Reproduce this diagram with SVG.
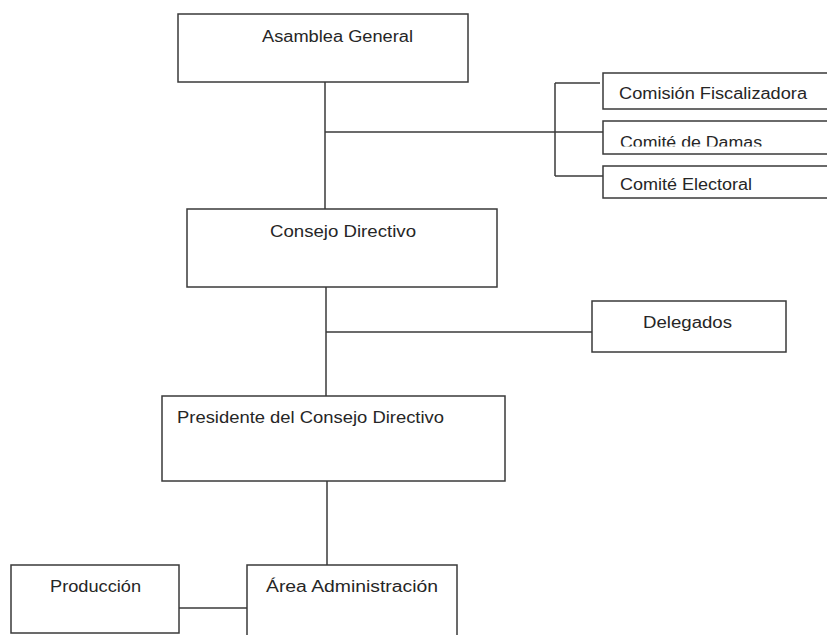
<svg xmlns="http://www.w3.org/2000/svg" width="827" height="635" viewBox="0 0 827 635">
<style>
.box{fill:#fff;stroke:#3a3a3a;stroke-width:1.5}
.ln{fill:none;stroke:#3a3a3a;stroke-width:1.5}
text{font-family:"Liberation Sans",Arial,sans-serif;font-size:16px;fill:#262626}
</style>
<defs>
<clipPath id="damasClip"><rect x="600" y="110" width="230" height="36.5"/></clipPath>
</defs>
<rect width="827" height="635" fill="#fff"/>
<g id="connectors">
<path class="ln" d="M325 82V209"/>
<path class="ln" d="M325 132H603"/>
<path class="ln" d="M555 83V176"/>
<path class="ln" d="M555 83H600"/>
<path class="ln" d="M555 176H603"/>
<path class="ln" d="M326 287V396"/>
<path class="ln" d="M326 332H592"/>
<path class="ln" d="M327 481V565"/>
<path class="ln" d="M179 608H247"/>
</g>
<g id="asamblea">
<rect class="box" x="178" y="14" width="290" height="68"/>
<text x="262" y="42" textLength="151" lengthAdjust="spacingAndGlyphs">Asamblea General</text>
</g>
<g id="comision">
<rect class="box" x="603" y="73" width="230" height="36"/>
<text x="619" y="99" textLength="188" lengthAdjust="spacingAndGlyphs">Comisión Fiscalizadora</text>
</g>
<g id="damas">
<rect class="box" x="603" y="121" width="230" height="33"/>
<text x="620" y="148" textLength="142" lengthAdjust="spacingAndGlyphs" clip-path="url(#damasClip)">Comité de Damas</text>
</g>
<g id="electoral">
<rect class="box" x="603" y="166" width="230" height="32"/>
<text x="620" y="190" textLength="132" lengthAdjust="spacingAndGlyphs">Comité Electoral</text>
</g>
<g id="consejo">
<rect class="box" x="187" y="209" width="310" height="78"/>
<text x="270" y="237" textLength="146" lengthAdjust="spacingAndGlyphs">Consejo Directivo</text>
</g>
<g id="delegados">
<rect class="box" x="592" y="301" width="194" height="51"/>
<text x="643" y="328" textLength="89" lengthAdjust="spacingAndGlyphs">Delegados</text>
</g>
<g id="presidente">
<rect class="box" x="162" y="396" width="343" height="85"/>
<text x="177" y="423" textLength="267" lengthAdjust="spacingAndGlyphs">Presidente del Consejo Directivo</text>
</g>
<g id="produccion">
<rect class="box" x="11" y="565" width="168" height="68"/>
<text x="50" y="592" textLength="91" lengthAdjust="spacingAndGlyphs">Producción</text>
</g>
<g id="administracion">
<rect class="box" x="247" y="565" width="210" height="80"/>
<text x="266" y="592" textLength="172" lengthAdjust="spacingAndGlyphs">Área  Administración</text>
</g>
</svg>
